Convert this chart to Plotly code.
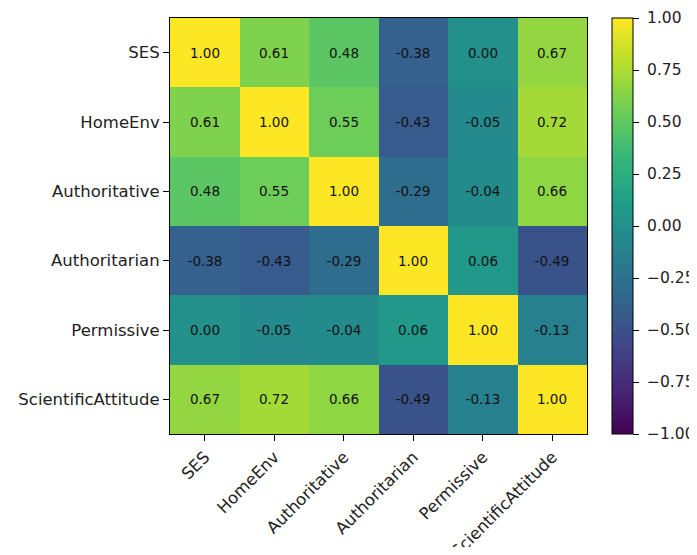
import plotly.graph_objects as go

labels = ["SES", "HomeEnv", "Authoritative", "Authoritarian", "Permissive", "ScientificAttitude"]
corr = [
    [1.00, 0.61, 0.48, -0.38, 0.00, 0.67],
    [0.61, 1.00, 0.55, -0.43, -0.05, 0.72],
    [0.48, 0.55, 1.00, -0.29, -0.04, 0.66],
    [-0.38, -0.43, -0.29, 1.00, 0.06, -0.49],
    [0.00, -0.05, -0.04, 0.06, 1.00, -0.13],
    [0.67, 0.72, 0.66, -0.49, -0.13, 1.00],
]
cbar_ticks = [-1.0, -0.75, -0.5, -0.25, 0.0, 0.25, 0.5, 0.75, 1.0]

text = [[f"{v:.2f}" for v in row] for row in corr]
cbar_text = [" " + f"{v:.2f}".replace("-", "\u2212") for v in cbar_ticks]

# page body adds an 8px offset; keep the page free of scrollbars
OFF = 8
W, H = 697 - OFF, 555 - 2 * OFF
L, R, T, B = 170 - OFF, 587 - OFF, 18 - OFF, 434 - OFF
CBX = 612 - OFF

fig = go.Figure(go.Heatmap(
    z=corr, x=labels, y=labels,
    colorscale="Viridis", zmin=-1, zmax=1,
    text=text, texttemplate="%{text}",
    textfont=dict(family="DejaVu Sans", size=13.5, color="#111111"),
    hoverinfo="skip",
    colorbar=dict(
        x=(CBX - L) / (R - L), xanchor="left", xref="paper",
        y=1, yanchor="top", len=(B - T), lenmode="pixels",
        thickness=21, thicknessmode="pixels",
        outlinecolor="black", outlinewidth=1,
        tickvals=cbar_ticks, ticktext=cbar_text,
        ticks="outside", ticklen=6, tickcolor="black",
        tickfont=dict(family="DejaVu Sans", size=15.5, color="#222222"),
        xpad=0, ypad=0,
    ),
))

fig.update_layout(
    width=W, height=H,
    margin=dict(l=L, r=W - R, t=T, b=H - B, pad=0, autoexpand=False),
    paper_bgcolor="white", plot_bgcolor="white",
    font=dict(family="DejaVu Sans", color="#222222"),
)
fig.update_xaxes(
    tickangle=-45, ticks="outside", ticklen=6, tickcolor="black",
    tickfont=dict(size=16.5, color="#222222"),
    showline=True, linecolor="black", linewidth=1, mirror=True,
    showgrid=False, zeroline=False, automargin=False,
)
fig.update_yaxes(
    autorange="reversed", ticks="outside", ticklen=6, tickcolor="black",
    tickfont=dict(size=16.5, color="#222222"),
    showline=True, linecolor="black", linewidth=1, mirror=True,
    showgrid=False, zeroline=False, automargin=False,
)

fig.write_html("out.html")
